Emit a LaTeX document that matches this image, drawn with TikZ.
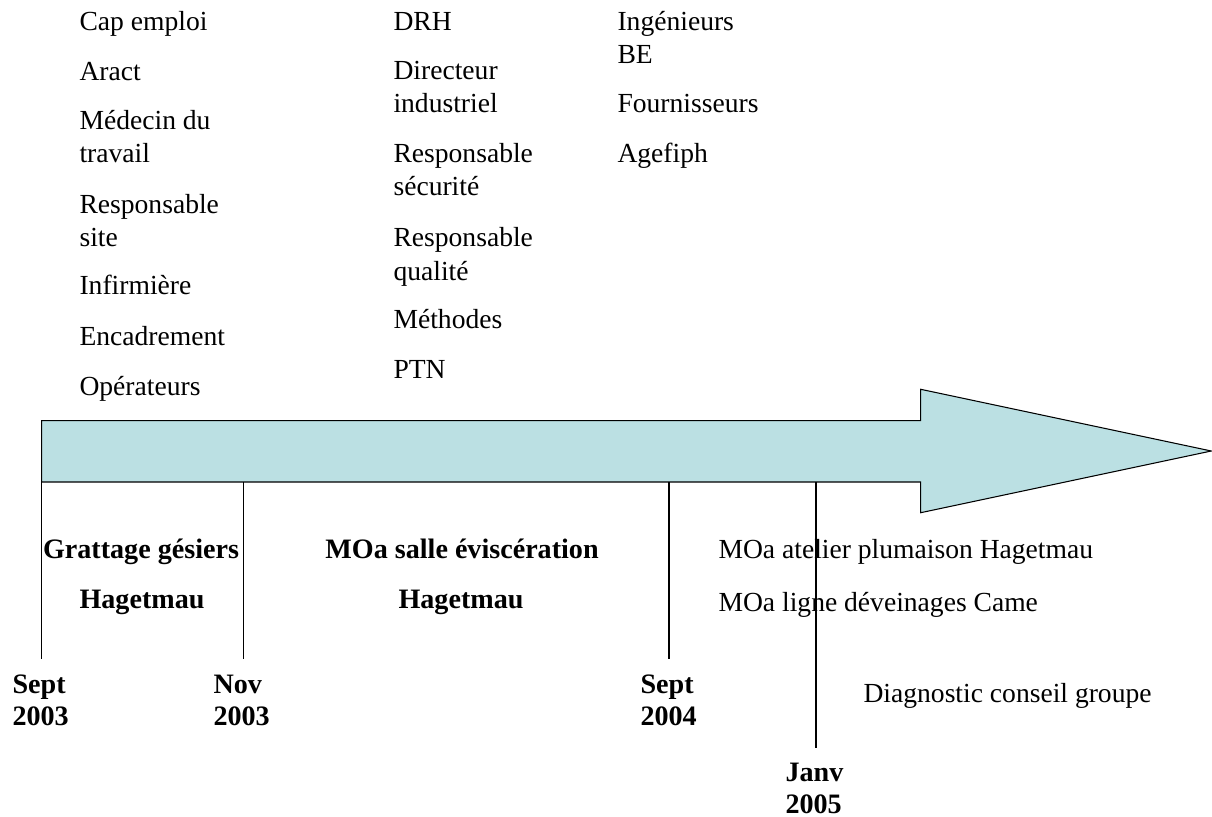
\documentclass[tikz,border=0pt]{standalone}
\usepackage{fontspec}
\setmainfont{Liberation Serif}
\definecolor{arrowfill}{RGB}{187,224,227}

\begin{document}
\begin{tikzpicture}[x=0.02cm, y=-0.02cm, line width=0.6pt,
  txt/.style = {font=\fontsize{15.7}{18.8}\selectfont, anchor=base west, inner sep=0pt, align=left},
  bold/.style = {txt, font=\fontsize{16}{18.2}\selectfont\bfseries}]
\useasboundingbox (0,0) rectangle (1212,817);
% big arrow
\draw[fill=arrowfill] (41.7,420.7) -- (920.7,420.7) -- (920.7,389.3) -- (1211.3,451)
  -- (920.7,512.7) -- (920.7,482) -- (41.7,482) -- cycle;
% people, first column (base = last line)
\node[txt] (1) at (79,31) {Cap emploi};
\node[txt] (2) at (79,81) {Aract};
\node[txt] (3) at (79,163) {Médecin du\\travail};
\node[txt] (4) at (79,247) {Responsable\\site};
\node[txt] (5) at (79,295) {Infirmière};
\node[txt] (6) at (79,345) {Encadrement};
\node[txt] (7) at (79,395) {Opérateurs};
% second column
\node[txt] (8) at (393,31) {DRH};
\node[txt] (9) at (393,113) {Directeur\\industriel};
\node[txt] (10) at (393,196) {Responsable\\sécurité};
\node[txt] (11) at (393,280) {Responsable\\qualité};
\node[txt] (12) at (393,328) {Méthodes};
\node[txt] (13) at (393,378) {PTN};
% third column
\node[txt] (14) at (617,64) {Ingénieurs\\BE};
\node[txt] (15) at (617,113) {Fournisseurs};
\node[txt] (16) at (617,163) {Agefiph};
% projects
\node[bold, anchor=base] (e1) at (141,558) {Grattage gésiers};
\node[bold, anchor=base] (e2) at (142,608) {Hagetmau};
\node[bold, anchor=base] (e3) at (462,558) {MOa salle éviscération};
\node[bold, anchor=base] (e4) at (461,608) {Hagetmau};
\node[txt] (e5) at (718,558) {MOa atelier plumaison Hagetmau};
\node[txt] (e6) at (718,611) {MOa ligne déveinages Came};
\node[txt] (e7) at (863,702) {Diagnostic conseil groupe};
% dates
\node[bold] (d1) at (12,725) {Sept\\2003};
\node[bold] (d2) at (213,725) {Nov\\2003};
\node[bold] (d3) at (640,725) {Sept\\2004};
\node[bold] (d4) at (785,813) {Janv\\2005};
% ticks
\coordinate (t1) at (41.7,482);
\coordinate (t2) at (243.7,482);
\coordinate (t3) at (669,482);
\coordinate (t4) at (816,482);
\coordinate (b1) at (41.7,659);
\coordinate (b2) at (243.7,659);
\coordinate (b3) at (669,659);
\coordinate (b4) at (816,748);
\draw (t1) -- (b1);
\draw (t2) -- (b2);
\draw (t3) -- (b3);
\draw (t4) -- (b4);
\end{tikzpicture}
\end{document}
